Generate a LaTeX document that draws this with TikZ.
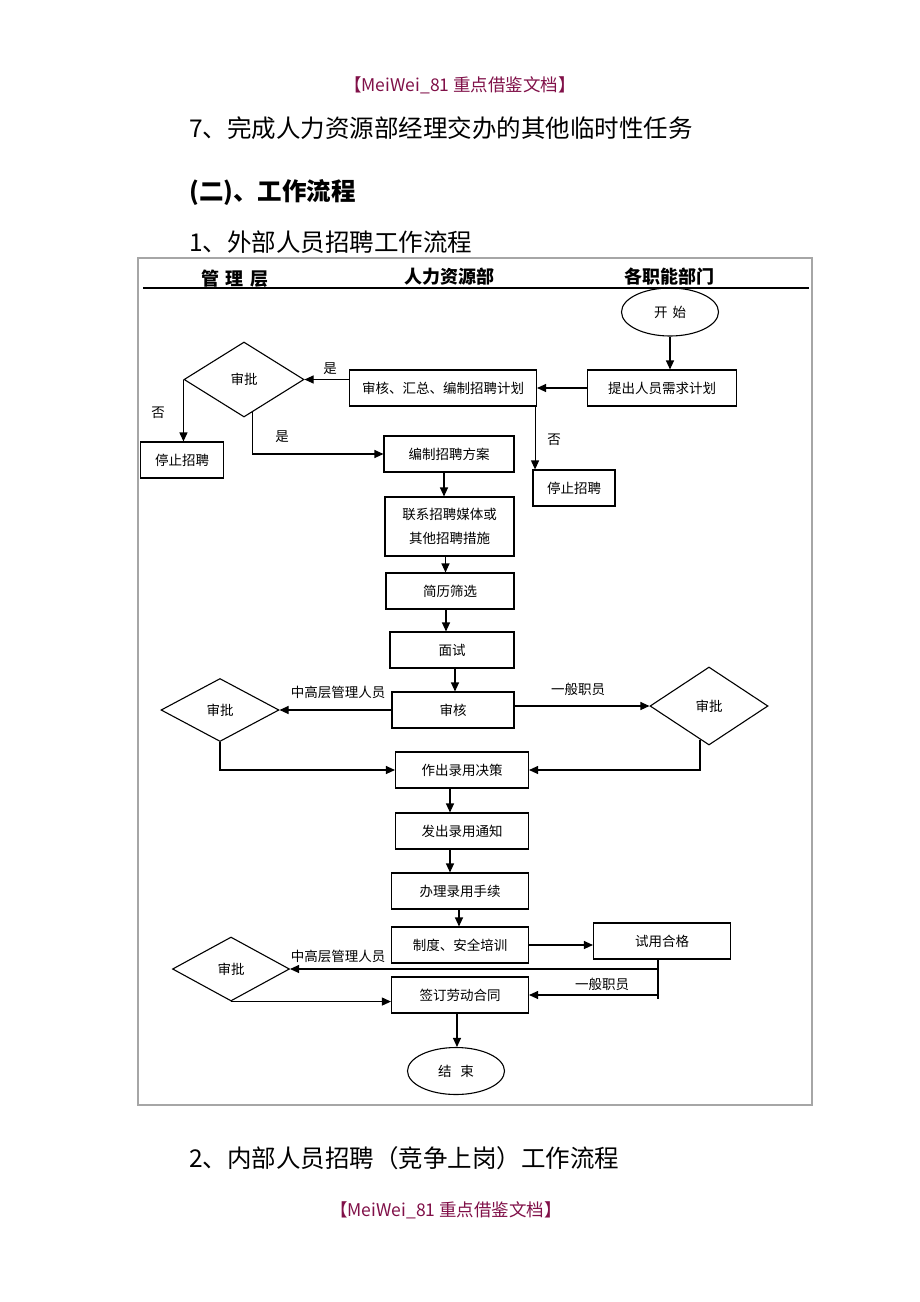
\documentclass[tikz,border=0pt]{standalone}
\usepackage{fontspec}
\setmainfont{Noto Sans CJK SC}
\usetikzlibrary{shapes.geometric,arrows.meta}
\definecolor{wmark}{RGB}{128,16,72}

\begin{document}
\begin{tikzpicture}[x=1pt,y=-1pt,
  every node/.style={font=\fontsize{13.5}{16}\selectfont},
  box/.style={draw,line width=1.1pt,inner sep=0pt,minimum height=36pt},
  judge/.style={draw,diamond,line width=1.1pt,inner sep=0pt},
  term/.style={draw,ellipse,line width=1.1pt,inner sep=0pt,minimum width=97pt,minimum height=48pt},
  flow/.style={line width=1.1pt,-{Triangle[length=9pt,width=8pt]}},
  link/.style={line width=1.1pt},
  note/.style={inner sep=0pt},
  title/.style={anchor=west,inner sep=0pt,font=\fontsize{24.5}{28}\selectfont},
  head/.style={inner sep=0pt,font=\fontsize{18}{20}\selectfont\bfseries},
  wm/.style={inner sep=0pt,text=wmark,font=\fontsize{17.5}{20}\selectfont}]
  \useasboundingbox (0,0) rectangle (920,1302);

  \node[wm] (wmtop) at (460,85) {【MeiWei\_81 重点借鉴文档】};
  \node[title] (t7) at (189,128) {7、完成人力资源部经理交办的其他临时性任务};
  \node[title,font=\fontsize{24.5}{28}\selectfont\bfseries] (t2) at (189,192) {(二)、工作流程};
  \node[title] (t1) at (189,242) {1、外部人员招聘工作流程};

  \draw[gray!70,line width=2pt] (138,258) rectangle (812,1105);
  \draw[line width=2.5pt] (143,288) -- (809,288);
  \node[head] (hmgr) at (235,279) {管\hspace{7pt}理\hspace{7pt}层};
  \node[head] (hhr) at (449,277) {人力资源部};
  \node[head] (hdept) at (669,277) {各职能部门};

  \node[term] (start) at (670,312) {开\hspace{5pt}始};
  \node[box,minimum width=149pt] (need) at (662,388) {提出人员需求计划};
  \node[box,minimum width=187pt] (plan) at (443,388) {审核、汇总、编制招聘计划};
  \node[judge,minimum width=120pt,minimum height=75pt] (appr1) at (244,379.5) {审批};
  \node[box,minimum width=83pt] (stopL) at (182,460) {停止招聘};
  \node[box,minimum width=130pt] (scheme) at (449,454) {编制招聘方案};
  \node[box,minimum width=82pt] (stopR) at (574,488) {停止招聘};
  \node[box,minimum width=129pt,minimum height=59pt,align=center,
        font=\fontsize{13.5}{24}\selectfont] (contact) at (449.5,526.5) {联系招聘媒体或\\其他招聘措施};
  \node[box,minimum width=128pt] (screen) at (450,591) {简历筛选};
  \node[box,minimum width=124pt] (interview) at (452,650) {面试};
  \node[box,minimum width=122pt] (review) at (453,710) {审核};
  \node[judge,minimum width=118pt,minimum height=63pt] (appr2) at (220,710) {审批};
  \node[judge,minimum width=118pt,minimum height=78pt] (appr3) at (709,706) {审批};
  \node[box,minimum width=133pt] (decide) at (462,770) {作出录用决策};
  \node[box,minimum width=133pt] (notify) at (462,831) {发出录用通知};
  \node[box,minimum width=137pt] (handle) at (460,891) {办理录用手续};
  \node[box,minimum width=137pt] (train) at (460,945) {制度、安全培训};
  \node[box,minimum width=137pt] (pass) at (662,941) {试用合格};
  \node[judge,minimum width=117pt,minimum height=64pt] (appr4) at (231,969) {审批};
  \node[box,minimum width=137pt] (sign) at (460,995) {签订劳动合同};
  \node[term,minimum height=47pt] (finish) at (456,1071) {结\hspace{9pt}束};

  \node[note] (yes1) at (330,369) {是};
  \node[note] (no1) at (158,413) {否};
  \node[note] (yes2) at (282,437) {是};
  \node[note] (no2) at (554,440) {否};
  \node[note] (senior1) at (338,692) {中高层管理人员};
  \node[note] (staff1) at (578,689) {一般职员};
  \node[note] (senior2) at (338,956) {中高层管理人员};
  \node[note] (staff2) at (602,984) {一般职员};

  \draw[flow] (start.south) -- (start.south |- need.north);
  \draw[flow] (need.west) -- (plan.east);
  \draw[flow] (plan.west |- appr1.east) -- (appr1.east);
  \draw[flow] (appr1.west) -- (appr1.west |- stopL.north);
  \draw[flow] (appr1.-75) |- (scheme.west);
  \draw[flow] ([xshift=-2pt]plan.south east) -- ([xshift=-2pt]plan.south east |- stopR.north);
  \draw[flow] ([xshift=-5pt]scheme.south) -- ([xshift=-5pt]scheme.south |- contact.north);
  \draw[flow] ([xshift=-4pt]contact.south) -- ([xshift=-4pt]contact.south |- screen.north);
  \draw[flow] ([xshift=-4pt]screen.south) -- ([xshift=-4pt]screen.south |- interview.north);
  \draw[flow] ([xshift=3pt]interview.south) -- ([xshift=3pt]interview.south |- review.north);
  \draw[flow] (review.west) -- (appr2.east);
  \draw[flow] (review.east |- appr3.west) -- (appr3.west);
  \draw[flow] (appr2.south) |- (decide.west);
  \draw[flow] (appr3.-105) |- (decide.east);
  \draw[flow] ([xshift=-12pt]decide.south) -- ([xshift=-12pt]decide.south |- notify.north);
  \draw[flow] ([xshift=-12pt]notify.south) -- ([xshift=-12pt]notify.south |- handle.north);
  \draw[flow] ([xshift=-1pt]handle.south) -- ([xshift=-1pt]handle.south |- train.north);
  \draw[flow] (train.east) -- (train.east -| pass.west);
  \coordinate (pbase) at (658,999);
  \draw[link] ([xshift=-4pt]pass.south) -- (pbase);
  \draw[flow] ([xshift=-4pt]pass.south |- appr4.east) -- (appr4.east);
  \draw[flow] ([xshift=-4pt]pass.south |- sign.east) -- (sign.east);
  \draw[flow] (appr4.south) -- (appr4.south -| sign.west);
  \draw[flow] ([xshift=-3pt]sign.south) -- ([xshift=-3pt]sign.south |- finish.north);

  \node[title] (t3) at (189,1158) {2、内部人员招聘（竞争上岗）工作流程};
  \node[wm] (wmbot) at (446,1210) {【MeiWei\_81 重点借鉴文档】};
\end{tikzpicture}
\end{document}
